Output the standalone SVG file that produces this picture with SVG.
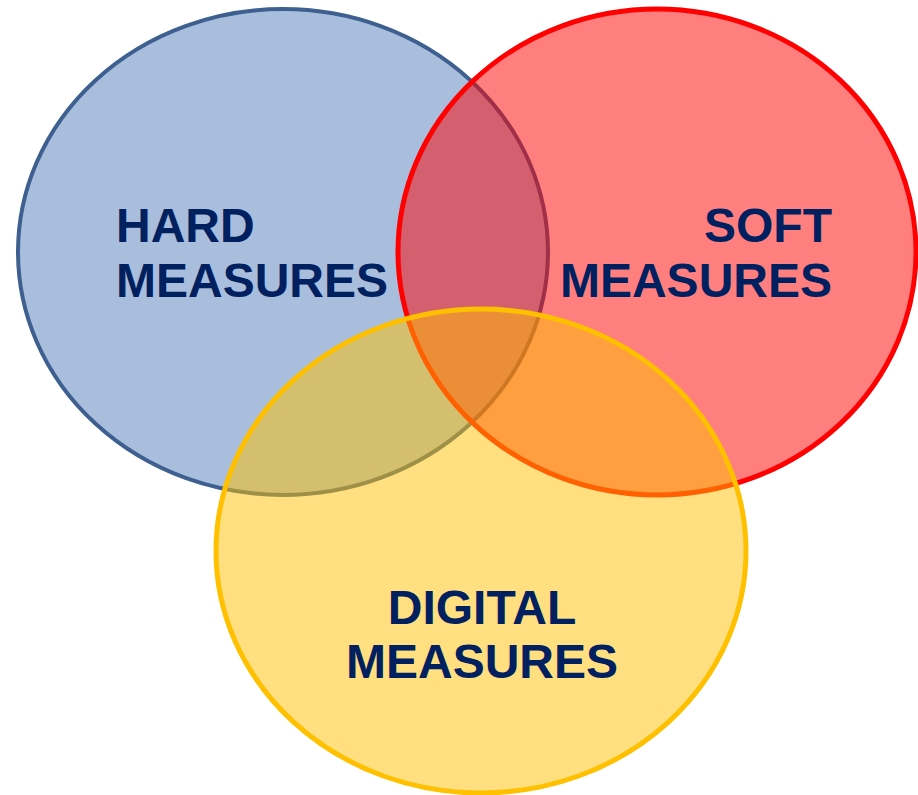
<svg xmlns="http://www.w3.org/2000/svg" width="918" height="795" viewBox="0 0 918 795">
<style>
.t{font-family:"Liberation Sans",Arial,sans-serif;font-weight:bold;font-size:48px;fill:#002060}
</style>
<rect width="918" height="795" fill="#FFFFFF"/>
<g id="hard">
<ellipse cx="283" cy="252" rx="265" ry="243" fill="#A9BEDD" stroke="#3E6090" stroke-width="4"/>
<text class="t" x="116" y="242">HARD</text>
<text class="t" x="116" y="297">MEASURES</text>
</g>
<g id="soft">
<ellipse cx="657" cy="252" rx="259" ry="243" fill="#FF0000" fill-opacity="0.5" stroke="#FF0000" stroke-width="5"/>
<text class="t" x="832" y="242" text-anchor="end">SOFT</text>
<text class="t" x="832" y="297" text-anchor="end">MEASURES</text>
</g>
<g id="digital">
<ellipse cx="481" cy="551" rx="265" ry="242" fill="#FFC000" fill-opacity="0.5" stroke="#FFC000" stroke-width="5"/>
<text class="t" x="482" y="624" text-anchor="middle">DIGITAL</text>
<text class="t" x="482" y="678" text-anchor="middle">MEASURES</text>
</g>
<g id="connectors"/>
</svg>
